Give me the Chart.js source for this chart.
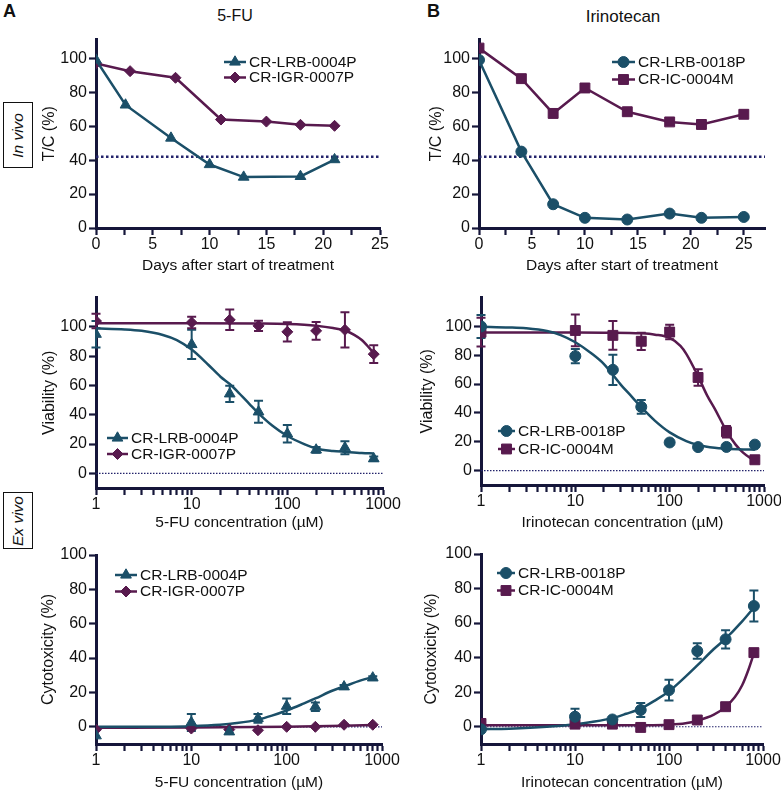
<!DOCTYPE html>
<html>
<head>
<meta charset="utf-8">
<script src="https://cdn.jsdelivr.net/npm/chart.js@4.4.1/dist/chart.umd.min.js"></script>
<style>
  body { margin: 0; background: #fff; width: 781px; height: 792px; position: relative; overflow: hidden;
         font-family: "Liberation Sans", Arial, Helvetica, sans-serif; color: #111; }
  canvas { position: absolute; }
  .lbl { position: absolute; white-space: nowrap; }
  .box { position: absolute; border: 1.5px solid #111; display: flex; align-items: center; justify-content: center; }
  .box span { writing-mode: vertical-rl; transform: rotate(180deg); font-style: italic; font-size: 15.5px; }
</style>
</head>
<body>
<div class="lbl" style="left:3px;top:1px;font-weight:bold;font-size:18px">A</div>
<div class="lbl" style="left:235px;top:7px;font-size:16px;transform:translateX(-50%)">5-FU</div>
<div class="lbl" style="left:427px;top:1px;font-weight:bold;font-size:18px">B</div>
<div class="lbl" style="left:623px;top:7px;font-size:17px;transform:translateX(-50%)">Irinotecan</div>
<div class="box" style="left:3px;top:102px;width:28px;height:64px"><span>In vivo</span></div>
<div class="box" style="left:3px;top:492px;width:28px;height:55px"><span>Ex vivo</span></div>

<script>
// ---------- data ----------
// A, in vivo (5-FU): T/C % vs days
const daysLRB0004 = [0, 2.6, 6.6, 10, 13, 18, 21];
const tcLRB0004 = [99, 72.5, 53, 37.4, 30, 30.4, 40.3];
const daysIGR0007 = [0, 3, 7, 11, 15, 18, 21];
const tcIGR0007 = [97, 92.4, 88.5, 63.9, 62.7, 60.8, 60.2];

// B, in vivo (irinotecan)
const daysLRB0018 = [0, 4, 7, 10, 14, 18, 21, 25];
const tcLRB0018 = [99, 45, 14, 6, 5, 8.5, 6, 6.5];
const daysIC0004 = [0, 4, 7, 10, 14, 18, 21, 25];
const tcIC0004 = [106, 88, 67.5, 82.5, 68.5, 62.5, 61, 67];

const tcThreshold = 42;

// ex vivo: concentrations (uM)
const conc = [1, 10, 25, 50, 100, 200, 400, 800];

// viability, 5-FU
const viaLRB0004 = [95, 88, 54.3, 42, 27, 16, 17.5, 10];
const viaLRB0004Err = [9, 10, 5.5, 7.5, 6, 2, 4.5, 1.5];
const viaIGR0007 = [104, 103, 104.8, 100.7, 96.6, 97.3, 98, 81.4];
const viaIGR0007Err = [5, 4, 7, 3.5, 6.5, 6, 12, 6];

// viability, irinotecan
const viaLRB0018 = [100, 79.4, 69.9, 44.2, 19.5, 16.3, 16.4, 18];
const viaLRB0018Err = [8, 5, 10.5, 4.8, 0, 0, 0, 0];
const viaIC0004 = [96, 97.2, 93.8, 89.7, 96.1, 64.6, 26.9, 7.5];
const viaIC0004Err = [10, 11, 10, 6, 5, 5.7, 4, 1];

// cytotoxicity, 5-FU
const cytLRB0004 = [-5.2, 2.5, -2.9, 4.9, 12, 11.7, 23.3, 28.5];
const cytLRB0004Err = [0, 5, 1, 2.5, 4.5, 2.5, 1, 1];
const cytIGR0007 = [-1.6, -1, -1.6, -2, 0, 0, 1.2, 1.2];
const cytIGR0007Err = [0, 0, 0, 0, 0, 0, 0, 0];

// cytotoxicity, irinotecan
const cytLRB0018 = [-1.5, 5.8, 4.2, 9.7, 21.2, 43.8, 50.6, 69.9];
const cytLRB0018Err = [0, 4.6, 0, 4, 6, 4.5, 5.3, 9];
const cytIC0004 = [1.9, 1.5, 1.5, -0.4, 1.2, 3.9, 11.6, 42.9];
const cytIC0004Err = [0, 0, 0, 0, 0, 0, 0, 2];

// fitted curves
const fitViaLRB0004X = [1, 2, 3, 5, 7, 10, 15, 20, 25, 30, 40, 50, 70, 100, 150, 200, 300, 400, 600, 800];
const fitViaLRB0004Y = [99, 98.3, 97.3, 94.5, 91, 84.5, 74, 66, 61, 56, 47.5, 41, 32.5, 25.5, 20, 17, 15.3, 14.7, 13.9, 13.6];
const fitViaIGR0007X = [1, 10, 50, 100, 150, 200, 300, 400, 500, 600, 700, 800];
const fitViaIGR0007Y = [102.5, 102.5, 102.3, 102, 101.5, 100.8, 99.2, 97.5, 94.5, 91, 86.5, 82];

const fitViaLRB0018X = [1, 2, 3, 5, 7, 10, 15, 20, 30, 40, 50, 70, 100, 150, 200, 300, 400, 600, 800];
const fitViaLRB0018Y = [99.8, 99.3, 98.7, 96.8, 94, 89, 81, 74, 60, 51, 44, 34.5, 26.5, 20.5, 17.8, 15.8, 15.2, 14.7, 14.5];
const fitViaIC0004X = [1, 10, 20, 50, 70, 100, 130, 150, 200, 250, 300, 400, 500, 600, 800];
const fitViaIC0004Y = [95.8, 95.8, 95.7, 95.2, 94.3, 92, 86.5, 81, 65.5, 52, 43, 27.5, 18, 12.5, 6.5];

const fitCytLRB0004X = [1, 5, 10, 20, 30, 50, 70, 100, 150, 200, 300, 400, 600, 800];
const fitCytLRB0004Y = [0, 0.1, 0.4, 1.2, 2.2, 4.2, 6.5, 9.5, 13.5, 16.5, 21, 23.5, 27, 29];
const fitCytIGR0007X = [1, 10, 100, 400, 800];
const fitCytIGR0007Y = [-0.5, -0.4, 0, 0.6, 1];

const fitCytLRB0018X = [1, 2, 5, 10, 15, 25, 35, 50, 70, 100, 150, 200, 300, 400, 600, 800];
const fitCytLRB0018Y = [-1.5, -1.1, 0, 1.5, 2.8, 5, 7.5, 10.5, 15, 20.5, 29, 35.5, 45, 51, 61, 69];
const fitCytIC0004X = [1, 10, 50, 100, 150, 200, 300, 400, 500, 600, 700, 800];
const fitCytIC0004Y = [0.8, 0.8, 0.9, 1.2, 2, 3.5, 7, 11.5, 17, 24, 33, 42.5];

// ticks
const dayTicks = [0, 2.5, 5, 7.5, 10, 12.5, 15, 17.5, 20, 22.5, 25];
const dayLabels = [0, 5, 10, 15, 20, 25];
const pctTicks = [0, 20, 40, 60, 80, 100];
const logTicks = [1, 2, 3, 4, 5, 6, 7, 8, 9, 10, 20, 30, 40, 50, 60, 70, 80, 90,
                  100, 200, 300, 400, 500, 600, 700, 800, 900, 1000];
const logLabels = [1, 10, 100, 1000];

// ---------- styles ----------
const FONT = '"Liberation Sans", Arial, Helvetica, sans-serif';
const TEAL = '#1b4f68';
const PURPLE = '#581a4e';
const AXIS = '#15163a';
const NAVY = '#23236b';

Chart.defaults.font.family = FONT;
Chart.defaults.color = '#111';

const pts = (xs, ys) => xs.map((x, i) => ({ x, y: ys[i] }));

function drawMarker(ctx, style, r, x, y) {
  if (Chart.helpers && Chart.helpers.drawPoint) {
    Chart.helpers.drawPoint(ctx, { pointStyle: style, radius: r, borderWidth: 1, rotation: 0 }, x, y);
    return;
  }
  ctx.beginPath();
  ctx.arc(x, y, r, 0, Math.PI * 2);
  ctx.fill();
}

// error bars, drawn under the markers
const errorBars = {
  id: 'errorBars',
  beforeDatasetsDraw(chart) {
    const ctx = chart.ctx, ys = chart.scales.y;
    chart.data.datasets.forEach((ds, i) => {
      if (!ds.errors) return;
      const meta = chart.getDatasetMeta(i);
      ctx.save();
      ctx.strokeStyle = ds.borderColor;
      ctx.lineWidth = 2;
      meta.data.forEach((el, j) => {
        const e = ds.errors[j];
        if (!e) return;
        const v = ds.data[j].y;
        const y1 = ys.getPixelForValue(v + e), y2 = ys.getPixelForValue(v - e);
        const c = 4.5;
        ctx.beginPath();
        ctx.moveTo(el.x, y1); ctx.lineTo(el.x, y2);
        ctx.moveTo(el.x - c, y1); ctx.lineTo(el.x + c, y1);
        ctx.moveTo(el.x - c, y2); ctx.lineTo(el.x + c, y2);
        ctx.stroke();
      });
      ctx.restore();
    });
  }
};

// legend: short line with marker, then the name
const keyLegend = {
  id: 'keyLegend',
  afterDraw(chart, args, o) {
    const ctx = chart.ctx;
    ctx.save();
    o.items.forEach((it, i) => {
      const y = o.y + i * o.gap;
      ctx.strokeStyle = it.color;
      ctx.fillStyle = it.color;
      ctx.lineWidth = 2.5;
      ctx.beginPath();
      ctx.moveTo(o.x, y); ctx.lineTo(o.x + o.len, y);
      ctx.stroke();
      ctx.lineWidth = 1;
      drawMarker(ctx, it.style, it.radius, o.x + o.len / 2, y);
      ctx.fillStyle = '#111';
      ctx.font = '15.5px ' + FONT;
      ctx.textBaseline = 'middle';
      ctx.fillText(it.label, o.x + o.len + 3, y + 0.5);
    });
    ctx.restore();
  }
};

const MK = {
  triangle: { pointStyle: 'triangle', pointRadius: 6.2 },
  diamond: { pointStyle: 'rectRot', pointRadius: 5.5 },
  circle: { pointStyle: 'circle', pointRadius: 5.5 },
  square: { pointStyle: 'rect', pointRadius: 7 }
};

function markers(data, color, mk, errors, lineToo) {
  return {
    data, errors, ...MK[mk],
    borderColor: color, backgroundColor: color, pointBackgroundColor: color, pointBorderColor: color,
    pointBorderWidth: 1, borderWidth: 2.5, showLine: !!lineToo, tension: 0, order: 1
  };
}
function fit(data, color) {
  return { data, borderColor: color, borderWidth: 2.5, pointRadius: 0, cubicInterpolationMode: 'monotone', order: 5 };
}
function refLine(data, heavy) {
  return {
    data, borderColor: NAVY, pointRadius: 0, order: 10,
    borderWidth: heavy ? 2.5 : 1.2, borderDash: heavy ? [2.5, 2.5] : [1.5, 1.5]
  };
}

function makePanel(p) {
  const [cx, cy, cw, ch] = p.canvas;
  const [pl, pt, pr, pb] = p.plot;
  const cv = document.createElement('canvas');
  cv.width = cw; cv.height = ch;
  cv.style.left = cx + 'px'; cv.style.top = cy + 'px';
  document.body.appendChild(cv);

  const grid = { display: true, drawOnChartArea: false, drawTicks: true, tickLength: 7,
                 tickColor: AXIS, tickWidth: 2.2, color: AXIS };
  const border = { display: true, color: AXIS, width: 3 };
  const titleSize = 15.5, yTitleSize = 16;

  new Chart(cv, {
    type: 'line',
    data: { datasets: p.datasets },
    options: {
      responsive: false, animation: false, devicePixelRatio: 1,
      events: [],
      layout: { padding: { left: 0, top: pt - cy, right: cx + cw - pr, bottom: 0 } },
      plugins: {
        legend: { display: false },
        tooltip: { enabled: false },
        keyLegend: { x: p.legend[0] - cx, y: p.legend[1] - cy, gap: p.legend[2], len: p.legend[3], items: p.keys }
      },
      scales: {
        x: {
          type: p.xType, min: p.xRange[0], max: p.xRange[1],
          grid, border,
          afterBuildTicks: s => { s.ticks = p.xTicks.map(v => ({ value: v })); },
          afterFit: s => { s.height = cy + ch - pb; },
          ticks: { autoSkip: false, maxRotation: 0, minRotation: 0, padding: 0,
                   font: { size: 16 }, color: '#111',
                   callback: v => p.xLabels.includes(v) ? String(v) : '' },
          title: { display: true, text: p.xTitle, color: '#111', font: { size: titleSize },
                   padding: { top: 0, bottom: (cy + ch - p.xTitleY) - titleSize * 0.6 } }
        },
        y: {
          type: 'linear', min: p.yRange[0], max: p.yRange[1],
          grid, border,
          afterBuildTicks: s => { s.ticks = pctTicks.map(v => ({ value: v })); },
          afterFit: s => { s.width = pl - cx; },
          ticks: { padding: 2, font: { size: 16 }, color: '#111' },
          title: { display: true, text: p.yTitle, color: '#111', font: { size: yTitleSize },
                   padding: { top: (p.yTitleX - cx) - yTitleSize * 0.6, bottom: 0 } }
        }
      }
    },
    plugins: [errorBars, keyLegend]
  });
}

const keysA = [
  { label: 'CR-LRB-0004P', color: TEAL, style: 'triangle', radius: 6.2 },
  { label: 'CR-IGR-0007P', color: PURPLE, style: 'rectRot', radius: 5.5 }
];
const keysB = [
  { label: 'CR-LRB-0018P', color: TEAL, style: 'circle', radius: 5.5 },
  { label: 'CR-IC-0004M', color: PURPLE, style: 'rect', radius: 7 }
];

const dayRangeA = [0, 25], dayRangeB = [0, 27], concRange = [1, 1000];

const panels = [
  { // A in vivo
    canvas: [36, 28, 384, 256], plot: [96, 38, 380, 228],
    xType: 'linear', xRange: dayRangeA, yRange: [0, 111], xTicks: dayTicks, xLabels: dayLabels,
    xTitle: 'Days after start of treatment', yTitle: 'T/C (%)', xTitleY: 266, yTitleX: 50,
    legend: [224, 62, 15.5, 22], keys: keysA,
    datasets: [
      markers(pts(daysLRB0004, tcLRB0004), TEAL, 'triangle', null, true),
      markers(pts(daysIGR0007, tcIGR0007), PURPLE, 'diamond', null, true),
      refLine(pts(dayRangeA, [tcThreshold, tcThreshold]), true)
    ]
  },
  { // B in vivo
    canvas: [420, 28, 380, 256], plot: [479, 38, 765, 228],
    xType: 'linear', xRange: dayRangeB, yRange: [0, 111], xTicks: dayTicks, xLabels: dayLabels,
    xTitle: 'Days after start of treatment', yTitle: 'T/C (%)', xTitleY: 266, yTitleX: 437,
    legend: [612, 62, 17.5, 23], keys: keysB,
    datasets: [
      markers(pts(daysLRB0018, tcLRB0018), TEAL, 'circle', null, true),
      markers(pts(daysIC0004, tcIC0004), PURPLE, 'square', null, true),
      refLine(pts(dayRangeB, [tcThreshold, tcThreshold]), true)
    ]
  },
  { // A viability
    canvas: [36, 286, 384, 250], plot: [96, 297, 383, 488],
    xType: 'logarithmic', xRange: concRange, yRange: [-10, 120], xTicks: logTicks, xLabels: logLabels,
    xTitle: '5-FU concentration (\u00b5M)', yTitle: 'Viability (%)', xTitleY: 523, yTitleX: 50,
    legend: [107, 438, 16, 21], keys: keysA,
    datasets: [
      markers(pts(conc, viaLRB0004), TEAL, 'triangle', viaLRB0004Err),
      markers(pts(conc, viaIGR0007), PURPLE, 'diamond', viaIGR0007Err),
      fit(pts(fitViaLRB0004X, fitViaLRB0004Y), TEAL),
      fit(pts(fitViaIGR0007X, fitViaIGR0007Y), PURPLE),
      refLine(pts(concRange, [0, 0]), false)
    ]
  },
  { // B viability
    canvas: [420, 286, 380, 250], plot: [481, 296, 764, 485],
    xType: 'logarithmic', xRange: concRange, yRange: [-10, 120], xTicks: logTicks, xLabels: logLabels,
    xTitle: 'Irinotecan concentration (\u00b5M)', yTitle: 'Viability (%)', xTitleY: 523, yTitleX: 428,
    legend: [498, 431, 18, 17], keys: keysB,
    datasets: [
      markers(pts(conc, viaLRB0018), TEAL, 'circle', viaLRB0018Err),
      markers(pts(conc, viaIC0004), PURPLE, 'square', viaIC0004Err),
      fit(pts(fitViaLRB0018X, fitViaLRB0018Y), TEAL),
      fit(pts(fitViaIC0004X, fitViaIC0004Y), PURPLE),
      refLine(pts(concRange, [0, 0]), false)
    ]
  },
  { // A cytotoxicity
    canvas: [36, 542, 384, 250], plot: [96, 555, 382, 744],
    xType: 'logarithmic', xRange: concRange, yRange: [-10, 100], xTicks: logTicks, xLabels: logLabels,
    xTitle: '5-FU concentration (\u00b5M)', yTitle: 'Cytotoxicity (%)', xTitleY: 783, yTitleX: 48.5,
    legend: [115, 575, 16.5, 22], keys: keysA,
    datasets: [
      markers(pts(conc, cytLRB0004), TEAL, 'triangle', cytLRB0004Err),
      markers(pts(conc, cytIGR0007), PURPLE, 'diamond', cytIGR0007Err),
      fit(pts(fitCytLRB0004X, fitCytLRB0004Y), TEAL),
      fit(pts(fitCytIGR0007X, fitCytIGR0007Y), PURPLE),
      refLine(pts(concRange, [0, 0]), false)
    ]
  },
  { // B cytotoxicity
    canvas: [420, 542, 380, 250], plot: [481, 554, 763, 744],
    xType: 'logarithmic', xRange: concRange, yRange: [-10, 100], xTicks: logTicks, xLabels: logLabels,
    xTitle: 'Irinotecan concentration (\u00b5M)', yTitle: 'Cytotoxicity (%)', xTitleY: 783, yTitleX: 432,
    legend: [497, 573, 17.5, 18], keys: keysB,
    datasets: [
      markers(pts(conc, cytLRB0018), TEAL, 'circle', cytLRB0018Err),
      markers(pts(conc, cytIC0004), PURPLE, 'square', cytIC0004Err),
      fit(pts(fitCytLRB0018X, fitCytLRB0018Y), TEAL),
      fit(pts(fitCytIC0004X, fitCytIC0004Y), PURPLE),
      refLine(pts(concRange, [0, 0]), false)
    ]
  }
];

panels.forEach(makePanel);
</script>
</body>
</html>
